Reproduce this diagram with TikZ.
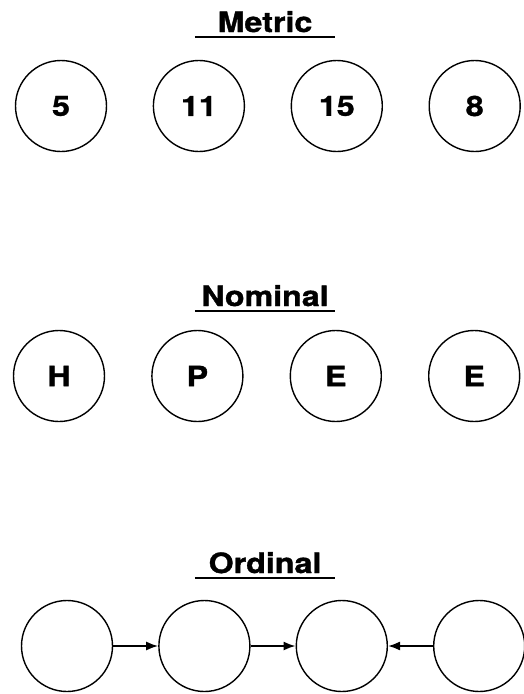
\documentclass[tikz,border=0pt]{standalone}
\usepackage{fontspec}
\setmainfont{TeX Gyre Heros}[FakeStretch=1.15, FakeBold=1.2]
\usepackage{tikz}
\usetikzlibrary{
	arrows.meta,
	positioning
}

\begin{document}
\begin{tikzpicture}[
  x=1pt, y=1pt,
  circulo/.style={circle, draw, line width=1.4pt, minimum size=91pt,
    inner sep=0pt, font=\fontsize{28}{30}\selectfont\bfseries},
  titulo/.style={anchor=base, minimum width=140pt, inner xsep=0pt,
    inner ysep=5pt, text depth=0pt, font=\fontsize{28}{30}\selectfont\bfseries},
  subrayado/.style={line width=2.4pt},
  flecha/.style={-{Latex[length=12pt,width=9pt]}, line width=1.8pt}
]
\useasboundingbox (0,0) rectangle (523,-694);
% Metric
\node[titulo] (metric) at (265,-32) {Metric};
\draw[subrayado] (metric.south west) -- (metric.south east);
\node[circulo] (m1) at (61,-106) {5};
\node[circulo, right=45.5pt of m1] (m2) {11};
\node[circulo, right=45.5pt of m2] (m3) {15};
\node[circulo, right=45.5pt of m3] (m4) {8};
% Nominal
\node[titulo] (nominal) at (265,-306) {Nominal};
\draw[subrayado] (nominal.south west) -- (nominal.south east);
\node[circulo] (n1) at (59,-376) {H};
\node[circulo, right=46pt of n1] (n2) {P};
\node[circulo, right=46pt of n2] (n3) {E};
\node[circulo, right=46pt of n3] (n4) {E};
% Ordinal
\node[titulo] (ordinal) at (265,-573) {Ordinal};
\draw[subrayado] (ordinal.south west) -- (ordinal.south east);
\node[circulo] (o1) at (67,-646) {};
\node[circulo, right=45pt of o1] (o2) {};
\node[circulo, right=45pt of o2] (o3) {};
\node[circulo, right=45pt of o3] (o4) {};
\draw[flecha] (o1) -- (o2);
\draw[flecha] (o2) -- (o3);
\draw[flecha] (o4) -- (o3);
\end{tikzpicture}
\end{document}
